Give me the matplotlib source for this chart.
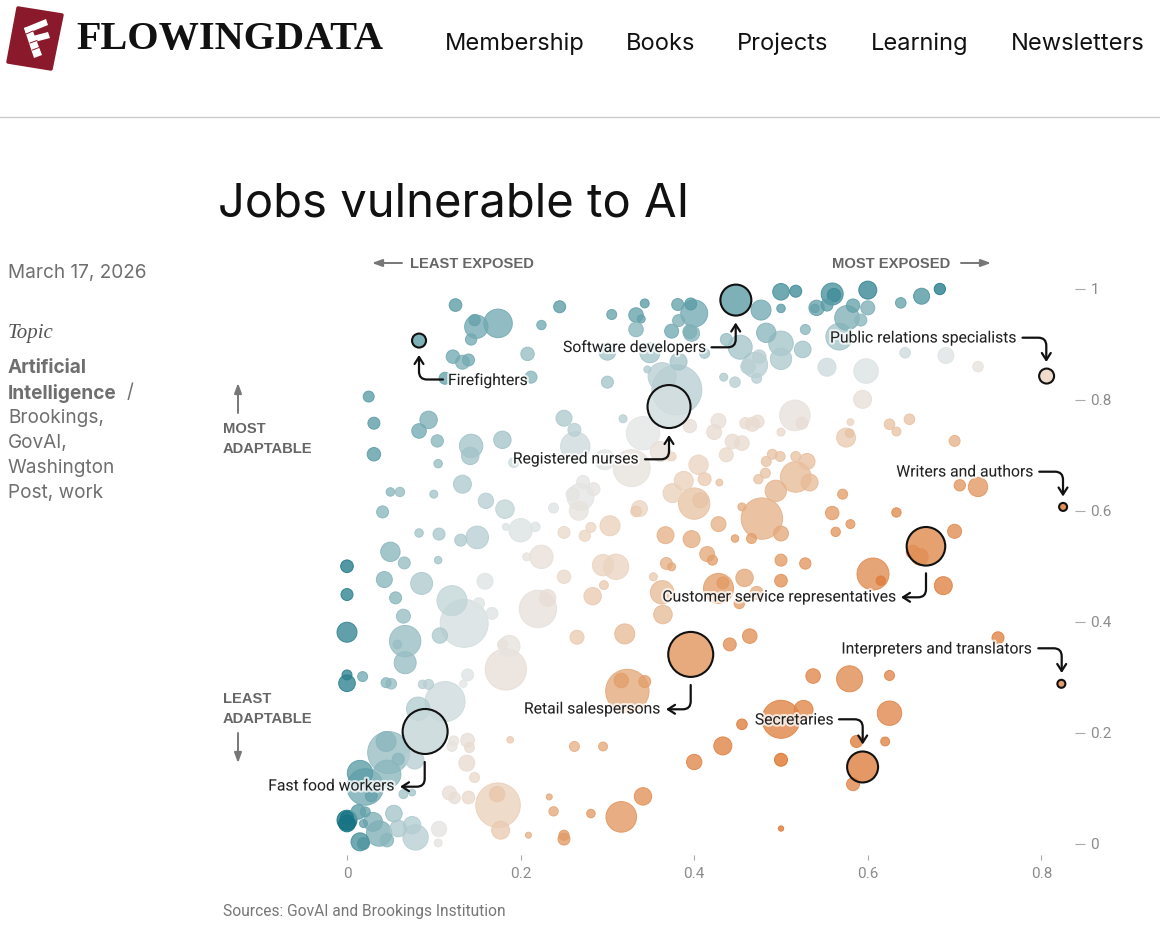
#!/usr/bin/env python3
import numpy as np
import matplotlib

matplotlib.use("Agg")
import matplotlib.pyplot as plt
import matplotlib.patheffects as pe
from matplotlib.colors import LinearSegmentedColormap
from matplotlib.patches import Polygon

# exposure, adaptability, relative workforce, colour score (-1 teal .. 1 orange)
exposure = [
    .125, .174, .149, .147, .143, .245, .224, .305, .343, .333,
    .339, .333, .381, .396, .400, .382, .374, .395, .397, .122,
    .133, .140, .208, .113, .212, .025, .031, .031, .094, .083,
    .104, .143, .142, .179, .105, .250, .262, .263, .318, .380,
    .363, .346, .382, .349, .300, .300, .412, .434, .437, .341,
    .328, .361, .395, .428, .423, .437, .374, .405, .297, .192,
    .133, .050, .061, .100, .160, .182, .041, .238, .269, .272,
    .284, .260, .267, .337, .333, .388, .375, .400, .407, .412,
    .429, .303, .428, .367, .397, .415, .421, .250, .281, .274,
    .200, .183, .217, .150, .131, .083, .106, .050, .066, .105,
    .224, .207, .295, .310, .368, .374, .000,
    .477, .500, .517, .500, .559, .561, .600, .683, .662, .638,
    .553, .541, .539, .583, .600, .576, .592, .567, .528, .483,
    .500, .525, .453, .500, .475, .470, .462, .472, .447, .553,
    .598, .643, .690, .727, .594, .516, .524, .500, .459, .467,
    .473, .580, .575, .579, .625, .633, .648, .700, .444, .455,
    .490, .499, .483, .517, .530, .517, .533, .482, .474, .494,
    .478, .455, .500, .447, .466, .571, .559, .580, .563, .633,
    .706, .727, .700, .660, .652, .500, .528, .606, .615, .687,
    .500, .458, .428, .433, .472, .452, .750, .464, .441, .537,
    .579, .625, .625, .526, .500, .455, .433, .500, .587, .620,
    .583, .500,
    .043, .086, .000, .056, .065, .159, .121, .135, .152, .167,
    .107, .000, .067, .058, .067, .220, .231, .250, .283, .296,
    .353, .363, .364, .320, .265, .187, .179, .183, .000, .000,
    .018, .045, .051, .087, .094, .139, .134, .113, .082, .323,
    .316, .343, .048, .045, .059, .046, .078, .015, .021, .028,
    .065, .075, .123, .121, .139, .141, .188, .262, .295, .400,
    .138, .147, .118, .124, .140, .174, .173, .177, .233, .238,
    .209, .250, .250, .281, .316, .341, .000, .000, .000, .019,
    .013, .021, .030, .054, .037, .046, .015, .019, .059, .075,
    .079, .106, .105,
]
adaptability = [
    .971, .938, .932, .944, .909, .968, .935, .954, .974, .953,
    .946, .927, .972, .973, .956, .943, .924, .923, .920, .878,
    .868, .872, .883, .839, .841, .806, .758, .702, .764, .744,
    .726, .717, .699, .728, .685, .767, .746, .716, .766, .818,
    .842, .855, .869, .885, .887, .832, .884, .841, .909, .740,
    .677, .707, .753, .762, .742, .701, .698, .683, .692, .687,
    .648, .634, .634, .630, .618, .603, .598, .605, .625, .652,
    .639, .630, .600, .604, .599, .654, .632, .613, .619, .657,
    .651, .573, .576, .556, .549, .522, .511, .561, .570, .555,
    .565, .571, .571, .552, .547, .560, .558, .526, .506, .511,
    .517, .517, .502, .499, .505, .499, .500,
    .962, .995, .996, .965, .991, .989, .998, 1.00, .987, .975,
    .971, .966, .965, .970, .966, .948, .944, .914, .927, .921,
    .902, .891, .895, .874, .878, .863, .860, .839, .832, .859,
    .852, .885, .880, .860, .801, .772, .758, .742, .758, .756,
    .761, .760, .732, .740, .756, .743, .765, .726, .725, .722,
    .702, .698, .689, .698, .689, .661, .651, .668, .657, .636,
    .586, .607, .559, .550, .550, .630, .596, .576, .562, .597,
    .646, .643, .563, .517, .526, .511, .505, .486, .474, .465,
    .474, .479, .460, .470, .452, .433, .371, .374, .359, .302,
    .297, .303, .235, .241, .224, .215, .176, .151, .184, .184,
    .107, .027,
    .476, .469, .449, .443, .410, .473, .438, .397, .433, .415,
    .375, .381, .365, .359, .326, .423, .443, .481, .446, .466,
    .481, .453, .413, .378, .372, .356, .359, .314, .289, .304,
    .301, .290, .288, .287, .287, .304, .288, .256, .243, .275,
    .294, .292, .164, .184, .152, .125, .151, .127, .102, .086,
    .089, .092, .185, .175, .186, .173, .187, .175, .175, .147,
    .145, .119, .091, .082, .083, .069, .089, .024, .084, .058,
    .015, .015, .008, .054, .048, .085, .042, .036, .046, .036,
    .057, .057, .039, .054, .018, .006, .003, .000, .027, .033,
    .011, .026, .001,
]
workforce = [
    40, 204, 137, 32, 32, 36, 22, 25, 20, 53,
    16, 53, 36, 36, 182, 36, 49, 49, 64, 45,
    49, 36, 45, 36, 36, 30, 36, 45, 76, 53,
    38, 137, 76, 76, 18, 64, 42, 216, 16, 625,
    196, 12, 72, 100, 72, 36, 25, 16, 36, 279,
    342, 100, 45, 56, 56, 49, 20, 94, 100, 25,
    81, 18, 22, 16, 59, 86, 36, 25, 182, 42,
    42, 42, 90, 64, 28, 90, 90, 246, 56, 42,
    12, 100, 56, 72, 72, 56, 25, 36, 25, 32,
    137, 12, 22, 128, 36, 18, 36, 94, 36, 14,
    137, 16, 114, 161, 36, 16, 40,
    100, 69, 36, 18, 121, 45, 81, 32, 64, 28,
    36, 59, 18, 45, 49, 151, 36, 177, 25, 94,
    151, 69, 144, 114, 45, 161, 53, 25, 28, 81,
    151, 28, 64, 28, 81, 234, 36, 16, 32, 49,
    42, 12, 90, 18, 28, 20, 28, 30, 53, 53,
    25, 25, 25, 25, 64, 234, 72, 25, 22, 114,
    428, 16, 56, 14, 25, 25, 45, 20, 22, 22,
    32, 94, 49, 69, 45, 36, 32, 256, 22, 81,
    40, 76, 225, 36, 42, 28, 36, 53, 42, 53,
    169, 25, 149, 90, 361, 28, 81, 42, 36, 20,
    42, 7,
    64, 121, 36, 36, 49, 64, 225, 576, 32, 36,
    59, 100, 246, 18, 121, 350, 69, 45, 76, 20,
    16, 137, 86, 100, 49, 114, 25, 428, 69, 25,
    25, 25, 28, 18, 25, 36, 14, 400, 137, 471,
    53, 36, 441, 100, 36, 196, 86, 161, 335, 36,
    20, 12, 25, 25, 49, 25, 11, 25, 20, 59,
    64, 25, 49, 32, 40, 497, 59, 81, 9, 22,
    9, 25, 36, 18, 234, 76, 100, 69, 44, 16,
    53, 25, 90, 69, 161, 45, 81, 36, 69, 76,
    161, 59, 16,
]
score = [
    -.6, -.5, -.5, -.55, -.5, -.6, -.5, -.55, -.6, -.55,
    -.55, -.4, -.55, -.6, -.5, -.45, -.5, -.45, -.4, -.5,
    -.45, -.5, -.35, -.55, -.4, -.6, -.6, -.6, -.45, -.5,
    -.4, -.3, -.3, -.3, -.35, -.25, -.2, -.1, -.2, -.2,
    -.2, -.25, -.3, -.3, -.3, -.3, -.3, -.25, -.35, 0,
    .05, .1, .1, .1, .12, .15, .2, .2, 0, -.1,
    -.25, -.4, -.35, -.3, -.2, -.15, -.4, -.02, .02, .02,
    .03, .03, .05, .2, .25, .22, .22, .3, .3, .25,
    .3, .22, .4, .4, .42, .45, .5, .15, .18, .18,
    -.03, -.03, -.03, -.2, -.25, -.3, -.27, -.4, -.35, -.3,
    .08, .05, .2, .2, .4, .45, -.9,
    -.5, -.7, -.75, -.6, -.7, -.75, -.8, -.9, -.65, -.55,
    -.6, -.55, -.55, -.55, -.45, -.45, -.4, -.3, -.4, -.4,
    -.3, -.3, -.3, -.25, -.2, -.2, -.2, -.2, -.2, -.1,
    -.03, -.1, -.02, .05, .1, .07, .1, .15, .12, .12,
    .12, .2, .25, .3, .3, .3, .3, .4, .13, .13,
    .3, .3, .3, .3, .32, .35, .35, .3, .3, .38,
    .4, .42, .45, .5, .5, .5, .55, .6, .6, .7,
    .6, .6, .7, .8, .75, .55, .6, .7, .85, .8,
    .65, .45, .5, .55, .42, .5, .8, .65, .65, .75,
    .72, .75, .75, .78, .8, .85, .8, .95, .85, .8,
    .75, .9,
    -.4, -.25, -.85, -.4, -.35, -.02, -.15, -.07, -.02, -.02,
    -.25, -.8, -.35, -.35, -.35, .07, .1, .15, .25, .25,
    .25, .35, .35, .35, .25, .05, .07, .1, -.85, -.85,
    -.5, -.4, -.35, -.2, -.2, -.02, 0, -.1, -.22, .45,
    .5, .5, -.35, -.4, -.4, -.4, -.2, -.6, -.5, -.55,
    -.3, -.3, .05, .05, .1, .12, .25, .4, .45, .75,
    .12, .15, .1, .1, .15, .22, .28, .25, .45, .45,
    .4, .55, .55, .55, .6, .65, -.95, -1, -.95, -.55,
    -.6, -.55, -.45, -.3, -.45, -.4, -.7, -.65, -.25, -.22,
    -.2, .03, .03,
]

# named occupations, drawn with the black outline
job_names = [
    "Firefighters", "Software developers", "Public relations specialists",
    "Registered nurses", "Writers and authors", "Customer service representatives",
    "Interpreters and translators", "Retail salespersons", "Secretaries",
    "Fast food workers",
]
job_exposure = [.083, .448, .806, .371, .825, .667, .823, .396, .594, .090]
job_adapt = [.907, .980, .843, .788, .607, .536, .288, .341, .138, .202]
job_workforce = [49, 240, 56, 462, 16, 372, 16, 506, 240, 506]
job_score = [-.55, -.55, .2, -.07, .85, .65, .7, .55, .75, -.12]

x_ticks = [0, 0.2, 0.4, 0.6, 0.8]
y_ticks = [0, 0.2, 0.4, 0.6, 0.8, 1]
nav_items = ["Membership", "Books", "Projects", "Learning", "Newsletters"]

W, H = 1160, 947
LABEL_FONT = "Roboto"
HEAD_FONT = "Inter"

cmap = LinearSegmentedColormap.from_list(
    "gap",
    [
        (0.0, "#0f6f80"),
        (0.2, "#5b9ca6"),
        (0.35, "#a3c4c9"),
        (0.5, "#e2e6e6"),
        (0.53, "#e8e2dd"),
        (0.6, "#ebd5c2"),
        (0.75, "#e3a06c"),
        (0.9, "#df8244"),
        (1.0, "#dc6f20"),
    ],
)


def colors_for(values, alpha):
    rgba = cmap((np.asarray(values, dtype=float) + 1) / 2)
    rgba[:, 3] = alpha
    return rgba


def to_points2(values):
    # workforce is radius squared in px, dpi 100
    return np.asarray(values, dtype=float) * (2 * 0.72) ** 2


def draw_page(bg):
    # logo
    bg.add_patch(Polygon([(18, 8), (62, 15), (51, 69), (8, 62)], closed=True, fc="#8a1a2b",
                         ec="#8a1a2b", lw=2.5, joinstyle="round"))
    for pts in [
        [(24, 28), (46, 19), (48, 25), (26, 34)],
        [(29, 37), (48, 32), (50, 38), (31, 43)],
        [(24, 28), (31, 26), (42, 55), (34, 58)],
    ]:
        bg.add_patch(Polygon(pts, closed=True, fc="white", ec="none"))
    for seg in [((26, 34), (33, 31)), ((30, 43), (37, 40.5)), ((32.5, 50), (39, 47.5))]:
        bg.plot(*zip(*seg), color="#8a1a2b", lw=0.7)
    bg.text(76, 39, "FLOWINGDATA", family="Liberation Serif", weight="bold", fontsize=29,
            color="#111111", va="center", ha="left")
    for name, px in zip(nav_items, [445, 626, 737, 871, 1011]):
        bg.text(px, 44, name, family=HEAD_FONT, fontsize=17, color="#111111", va="center", ha="left")
    bg.plot([0, W], [116.5, 116.5], color="#cccccc", lw=1)
    bg.text(218, 204, "Jobs vulnerable to AI", family=HEAD_FONT, fontsize=34, color="#111111",
            va="center", ha="left")

    # left column
    gray = "#6f6f6f"
    col = dict(family=HEAD_FONT, fontsize=13.7, color=gray, va="center")
    bg.text(8, 273, "March 17, 2026", **col)
    bg.text(8, 333, "Topic", family="Liberation Serif", style="italic", fontsize=15, color="#555555", va="center")
    bg.text(8, 368, "Artificial", weight="bold", **col)
    bg.text(8, 393, "Intelligence", weight="bold", **col)
    bg.text(127, 393, "/", **col)
    for line, py in zip(["Brookings,", "GovAI,", "Washington", "Post, work"], [418, 443, 468, 493]):
        bg.text(8, py, line, **col)

    # axis captions
    cap = dict(family="Liberation Sans", weight="bold", fontsize=10.6, color="#666666", va="center")
    bg.text(410, 264, "LEAST EXPOSED", ha="left", **cap)
    bg.text(832, 264, "MOST EXPOSED", ha="left", **cap)
    bg.text(223, 429, "MOST", ha="left", **cap)
    bg.text(223, 449, "ADAPTABLE", ha="left", **cap)
    bg.text(223, 699, "LEAST", ha="left", **cap)
    bg.text(223, 719, "ADAPTABLE", ha="left", **cap)
    for tail, head in [
        ((402, 263), (372, 263)),
        ((961, 263), (991, 263)),
        ((238, 413), (238, 383)),
        ((238, 733), (238, 763)),
    ]:
        bg.annotate("", xy=head, xytext=tail,
                    arrowprops=dict(arrowstyle="-|>,head_width=0.22,head_length=0.6", lw=1.4,
                                    color="#777777", shrinkA=0, shrinkB=0))
    bg.text(223, 911, "Sources: GovAI and Brookings Institution", family=LABEL_FONT, fontsize=11.2,
            color="#777777", va="center")


def draw_callouts(bg):
    halo = [pe.withStroke(linewidth=3, foreground="white", alpha=0.75)]
    # label edge px, label y px, arrow tail, arrow head, leaving angle, arriving angle
    callouts = [
        ("Firefighters", "left", 448, 380, (443, 379.5), (419, 355), 0, 90),
        ("Software developers", "right", 707, 347, (711.5, 347.3), (735.7, 322.5), 0, 90),
        ("Public relations specialists", "right", 1017, 338, (1022.5, 337.7), (1046.3, 362), 0, 90),
        ("Registered nurses", "right", 639, 459, (645, 459.3), (669, 435), 0, 90),
        ("Writers and authors", "right", 1034, 472, (1039.3, 471.7), (1063, 496.5), 0, 90),
        ("Customer service representatives", "right", 897, 597, (926, 573.3), (901, 597.3), 90, 0),
        ("Interpreters and translators", "right", 1033, 649, (1038.3, 648.3), (1061.7, 673), 0, 90),
        ("Retail salespersons", "right", 661, 709, (690.7, 685), (666, 709.3), 90, 0),
        ("Secretaries", "right", 834, 720, (839, 719.3), (862.7, 744.5), 0, 90),
        ("Fast food workers", "right", 395, 786, (424.7, 762), (400, 786.7), 90, 0),
    ]
    for name, ha, px, py, tail, head, ang_a, ang_b in callouts:
        bg.annotate("", xy=head, xytext=tail,
                    arrowprops=dict(arrowstyle="->,head_width=0.32,head_length=0.5", lw=1.6, color="#111111",
                                    connectionstyle=f"angle,angleA={ang_a},angleB={ang_b},rad=8",
                                    shrinkA=0, shrinkB=0))
        bg.text(px, py, name, family=LABEL_FONT, fontsize=11.3, color="#222222", ha=ha, va="center",
                path_effects=halo, zorder=6)


def main() -> None:
    fig = plt.figure(figsize=(W / 100, H / 100), dpi=100, facecolor="white")

    # plot box in px: left 300, right 1075, top 270, bottom 860
    ax = fig.add_axes([300 / W, 1 - 860 / H, 775 / W, 590 / H])
    ax.set_xlim((300 - 347) / 868, (1075 - 347) / 868)
    ax.set_ylim((843.5 - 860) / 554.5, (843.5 - 270) / 554.5)
    ax.patch.set_alpha(0)
    for spine in ax.spines.values():
        spine.set_visible(False)

    ax.set_xticks(x_ticks)
    ax.set_xticklabels(["0", "0.2", "0.4", "0.6", "0.8"])
    ax.set_yticks(y_ticks)
    ax.set_yticklabels(["0", "0.2", "0.4", "0.6", "0.8", "1"])
    ax.yaxis.tick_right()
    ax.tick_params(axis="x", direction="in", length=3.6, width=0.8, color="#aaaaaa", labelcolor="#8c8c8c",
                   labelsize=11, pad=5)
    ax.tick_params(axis="y", direction="out", length=7.2, width=0.8, color="#aaaaaa", labelcolor="#8c8c8c",
                   labelsize=11, pad=4)
    for label in ax.get_xticklabels() + ax.get_yticklabels():
        label.set_family(LABEL_FONT)

    order = np.argsort(workforce)[::-1]
    xs = np.asarray(exposure)[order]
    ys = np.asarray(adaptability)[order]
    sizes = to_points2(workforce)[order]
    scores = np.asarray(score)[order]
    ax.scatter(xs, ys, s=sizes, facecolors=colors_for(scores, 0.78), edgecolors=colors_for(scores, 0.9),
               linewidths=0.7, zorder=2)
    ax.scatter(job_exposure, job_adapt, s=to_points2(job_workforce), facecolors=colors_for(job_score, 0.85),
               edgecolors="#111111", linewidths=1.5, zorder=3)

    bg = fig.add_axes([0, 0, 1, 1], zorder=5)
    bg.set_xlim(0, W)
    bg.set_ylim(H, 0)
    bg.axis("off")
    bg.patch.set_alpha(0)
    draw_page(bg)
    draw_callouts(bg)

    fig.savefig("out.png", dpi=100)
    plt.close(fig)


if __name__ == "__main__":
    main()
